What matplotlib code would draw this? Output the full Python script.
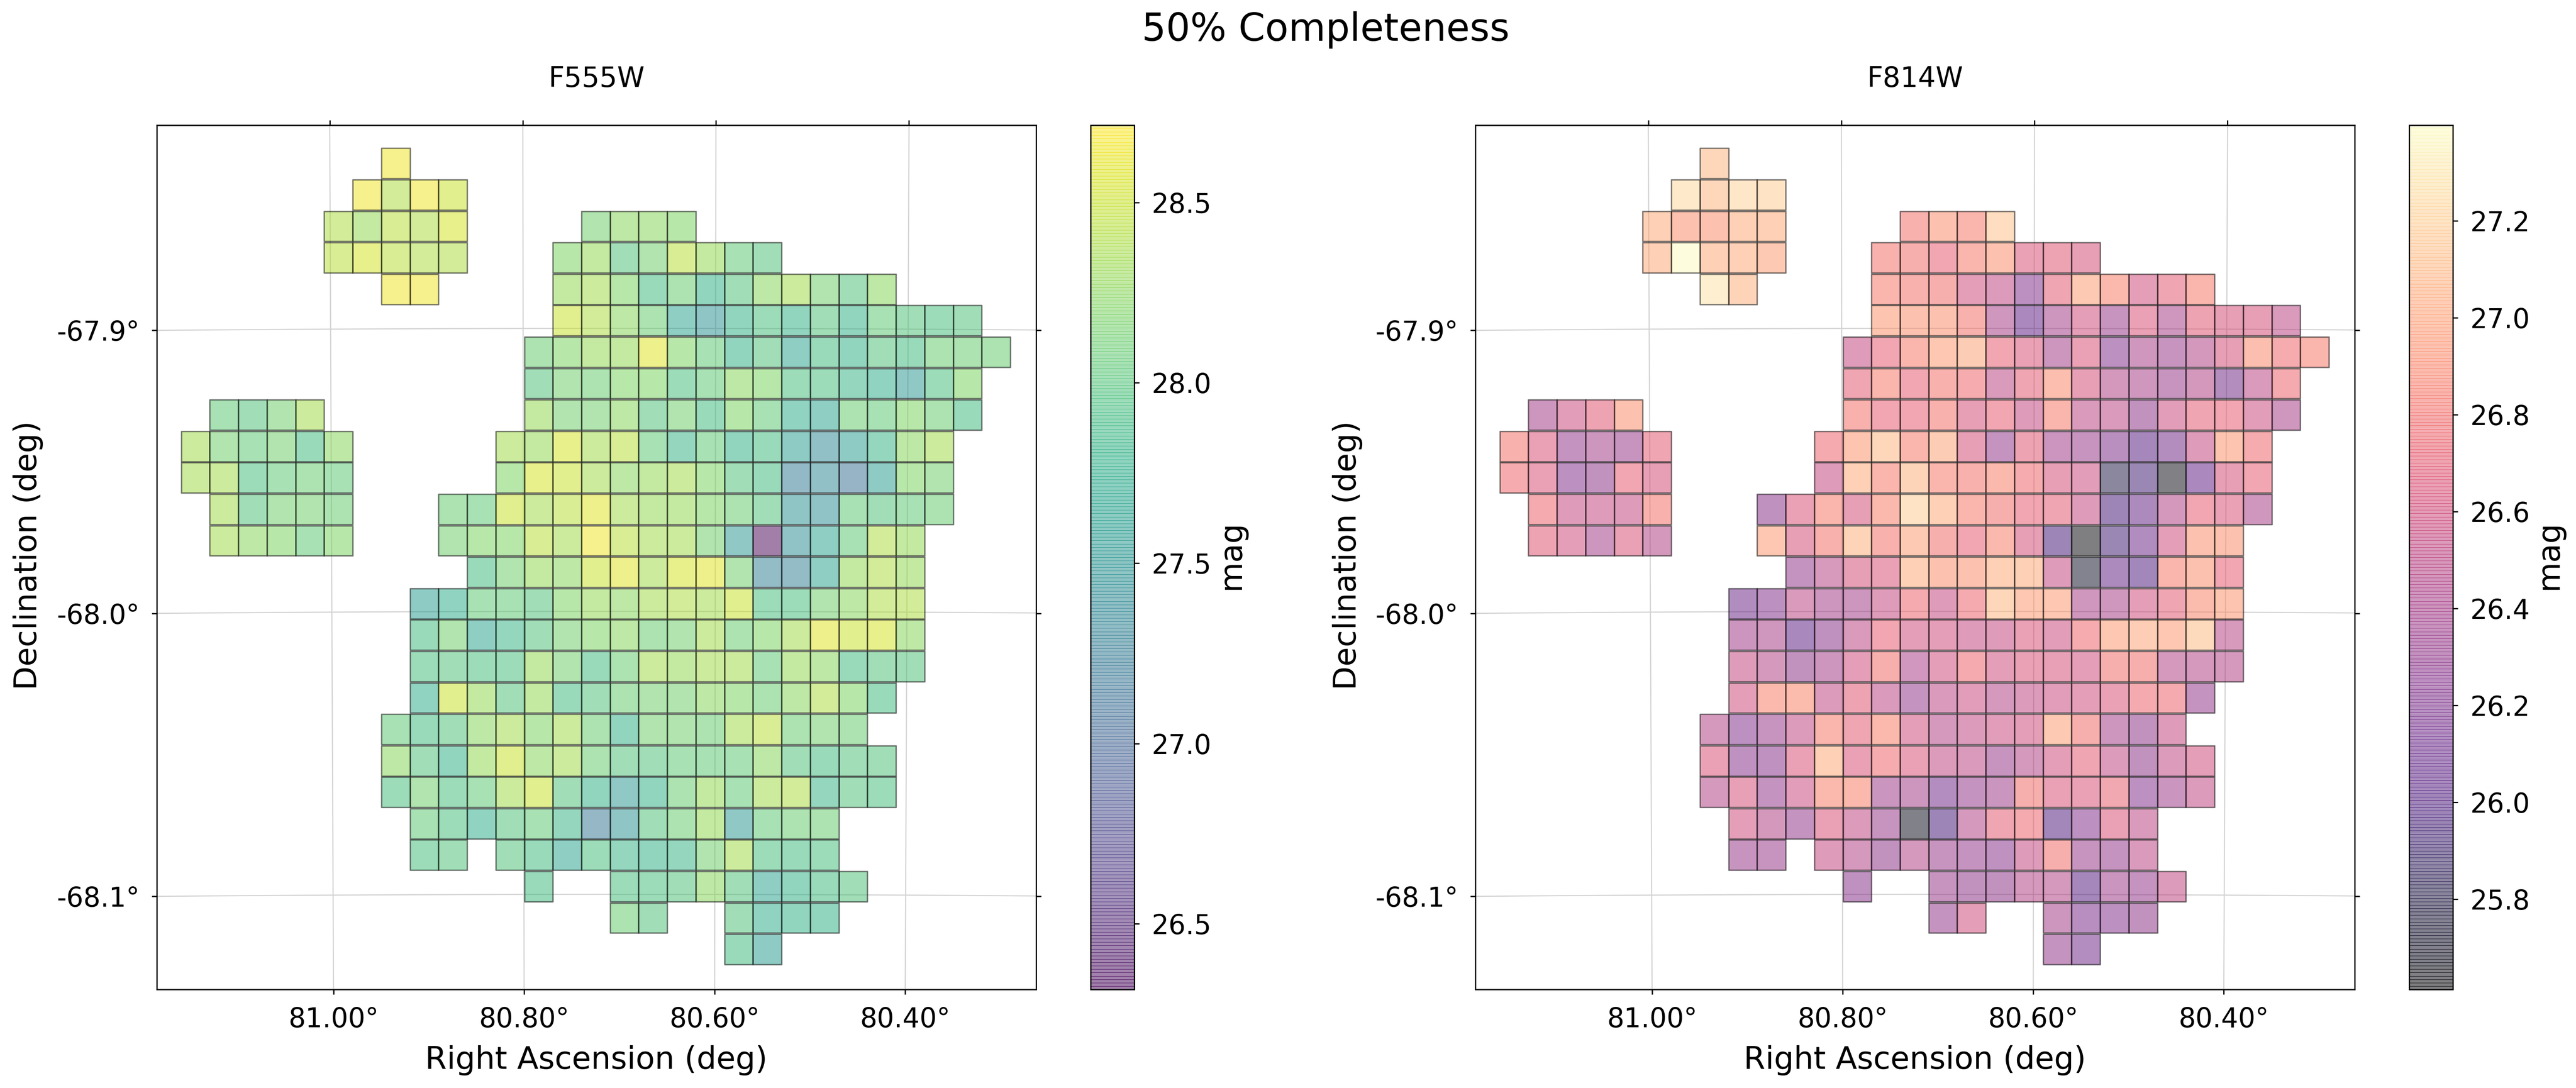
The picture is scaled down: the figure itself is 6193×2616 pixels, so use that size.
import numpy as np
import matplotlib
matplotlib.use('Agg')
import matplotlib.pyplot as plt
from matplotlib.collections import PolyCollection
from matplotlib.colors import Normalize

W, H = 6193, 2616

# each tile row: list of (first column, 50% completeness mags)
f555w_rows = [
    [(7, [28.65])],
    [(6, [28.65, 28.4, 28.65, 28.5])],
    [(5, [28.4, 28.3, 28.45, 28.4, 28.55]), (14, [28.15, 28.25, 28.25, 28.2])],
    [(5, [28.45, 28.55, 28.45, 28.4, 28.4]), (13, [28.2, 28.3, 28.0, 28.15, 28.45, 28.3, 28.05, 28.0])],
    [(7, [28.65, 28.65]), (13, [28.3, 28.35, 28.2, 27.9, 28.1, 27.8, 28.0, 28.25, 28.35, 28.15, 28.0, 28.25])],
    [(13, [28.5, 28.4, 28.25, 28.1, 27.65, 27.5, 27.8, 27.95, 27.8, 28.0, 27.8, 28.05, 28.0, 27.95, 28.0])],
    [(12, [28.1, 28.2, 28.3, 28.3, 28.6, 28.2, 28.05, 27.8, 28.0, 27.65, 27.9, 27.8, 28.0, 27.9, 28.1, 28.1, 28.1])],
    [(12, [28.0, 28.15, 28.1, 28.2, 28.2, 27.95, 28.05, 28.25, 28.2, 27.95, 27.95, 27.85, 27.75, 27.55, 27.95, 28.2])],
    [(1, [28.05, 28.0, 28.15, 28.35]), (12, [28.3, 28.15, 28.15, 28.25, 28.0, 28.15, 27.9, 28.2, 28.05, 27.75, 27.65, 28.1, 28.05, 28.2, 28.1, 27.9])],
    [(0, [28.35, 28.15, 28.05, 28.15, 27.9, 28.25]), (11, [28.35, 28.3, 28.55, 28.35, 28.45, 28.05, 27.85, 28.05, 27.8, 27.9, 27.6, 27.4, 27.6, 27.85, 28.25, 28.35])],
    [(0, [28.35, 28.35, 27.95, 28.05, 28.1, 28.05]), (11, [28.2, 28.55, 28.5, 28.35, 28.25, 28.3, 28.35, 28.2, 28.0, 27.9, 27.25, 27.4, 27.15, 27.6, 28.2, 28.15])],
    [(1, [28.35, 28.0, 28.15, 28.15, 28.1]), (9, [28.1, 28.05, 28.5, 28.35, 28.45, 28.6, 28.35, 28.3, 28.3, 28.2, 28.1, 28.0, 27.5, 27.45, 28.05, 28.0, 28.05, 28.1])],
    [(1, [28.35, 28.25, 28.2, 28.05, 28.2]), (9, [28.15, 28.2, 28.2, 28.45, 28.35, 28.65, 28.45, 28.35, 28.35, 28.15, 27.55, 26.32, 27.45, 27.65, 28.05, 28.4, 28.3])],
    [(10, [27.9, 28.15, 28.3, 28.25, 28.5, 28.6, 28.35, 28.55, 28.6, 28.15, 27.3, 27.3, 27.65, 28.3, 28.4, 28.3])],
    [(8, [27.6, 27.75, 28.05, 28.05, 28.0, 28.2, 28.3, 28.25, 28.35, 28.4, 28.35, 28.5, 27.95, 27.95, 28.15, 28.25, 28.4, 28.4])],
    [(8, [27.9, 28.15, 27.65, 27.85, 28.0, 28.15, 28.2, 28.25, 28.1, 28.15, 28.35, 28.1, 28.2, 28.35, 28.6, 28.5, 28.55, 28.25])],
    [(8, [27.95, 28.0, 27.95, 27.95, 28.3, 28.15, 27.9, 28.1, 28.35, 28.3, 28.35, 28.35, 28.05, 28.3, 28.25, 27.9, 28.0, 28.0])],
    [(8, [27.75, 28.5, 28.3, 28.0, 28.3, 27.9, 28.0, 28.1, 28.15, 28.15, 28.25, 28.2, 28.1, 28.25, 28.4, 28.2, 27.9])],
    [(7, [28.05, 27.9, 28.0, 28.25, 28.35, 28.2, 28.35, 28.1, 27.8, 28.15, 28.15, 28.1, 28.35, 28.45, 28.1, 28.15, 28.1])],
    [(7, [28.25, 28.0, 27.8, 28.3, 28.5, 28.25, 28.35, 28.1, 28.0, 28.0, 28.05, 28.05, 28.05, 28.25, 28.0, 27.9, 28.0, 28.0])],
    [(7, [27.95, 28.15, 27.95, 28.05, 28.35, 28.5, 28.0, 27.8, 27.55, 27.8, 28.1, 28.3, 28.05, 28.35, 28.4, 27.85, 28.0, 27.95])],
    [(8, [28.05, 27.95, 27.75, 28.0, 28.05, 27.85, 27.2, 27.5, 28.0, 28.1, 28.3, 27.55, 28.05, 28.1, 28.1])],
    [(8, [27.95, 28.0]), (11, [28.0, 27.9, 27.65, 27.95, 27.85, 27.8, 27.85, 28.15, 28.35, 27.95, 27.9, 27.95])],
    [(12, [27.9]), (15, [27.95, 27.95, 28.0, 28.25, 28.0, 27.65, 27.8, 27.9, 28.0])],
    [(15, [28.1, 28.0]), (19, [28.0, 27.75, 27.8, 27.8])],
    [(19, [27.9, 27.6])],
]

f814w_rows = [
    [(7, [27.1])],
    [(6, [27.25, 27.1, 27.22, 27.2])],
    [(5, [27.05, 26.95, 26.95, 27.05, 27.05]), (14, [26.82, 26.95, 26.85, 27.15])],
    [(5, [27.05, 27.39, 27.05, 27.05, 27.0]), (13, [26.82, 26.8, 26.72, 26.85, 26.95, 26.65, 26.68, 26.62])],
    [(7, [27.28, 27.08]), (13, [26.85, 26.82, 26.8, 26.6, 26.52, 26.25, 26.7, 27.0, 26.88, 26.6, 26.7, 26.85])],
    [(13, [26.97, 26.95, 26.95, 26.82, 26.42, 26.1, 26.4, 26.6, 26.35, 26.65, 26.42, 26.68, 26.62, 26.62, 26.5])],
    [(12, [26.55, 26.72, 26.85, 26.98, 27.02, 26.72, 26.65, 26.4, 26.65, 26.25, 26.42, 26.35, 26.45, 26.62, 26.92, 26.78, 26.85])],
    [(12, [26.7, 26.85, 26.72, 26.82, 26.78, 26.5, 26.7, 26.92, 26.62, 26.45, 26.42, 26.35, 26.45, 26.18, 26.5, 26.75])],
    [(1, [26.4, 26.58, 26.68, 26.95]), (12, [26.82, 26.72, 26.72, 26.82, 26.62, 26.72, 26.55, 26.85, 26.5, 26.5, 26.3, 26.58, 26.7, 26.72, 26.58, 26.42])],
    [(0, [26.82, 26.65, 26.32, 26.4, 26.35, 26.7]), (11, [26.75, 26.97, 27.1, 26.85, 27.02, 26.62, 26.32, 26.68, 26.38, 26.35, 26.22, 26.05, 26.18, 26.55, 26.97, 26.78])],
    [(0, [26.78, 26.65, 26.25, 26.3, 26.72, 26.62]), (11, [26.55, 27.05, 26.85, 27.08, 26.85, 26.82, 26.88, 26.78, 26.62, 26.58, 25.82, 25.95, 25.66, 26.1, 26.62, 26.72])],
    [(1, [26.75, 26.55, 26.55, 26.55, 26.82]), (9, [26.28, 26.65, 26.85, 26.62, 26.88, 27.2, 27.05, 26.85, 26.8, 26.72, 26.7, 26.55, 25.98, 26.12, 26.45, 26.72, 26.65, 26.42])],
    [(1, [26.68, 26.6, 26.4, 26.65, 26.45]), (9, [26.98, 26.62, 26.82, 27.08, 26.82, 27.0, 26.8, 26.72, 26.88, 26.62, 25.98, 25.62, 25.95, 26.15, 26.6, 26.95, 26.95])],
    [(10, [26.32, 26.48, 26.62, 26.65, 27.05, 26.95, 26.95, 27.05, 27.05, 26.55, 25.72, 26.12, 26.02, 26.85, 26.95, 26.72])],
    [(8, [26.15, 26.25, 26.5, 26.4, 26.4, 26.55, 26.75, 26.55, 26.75, 27.1, 26.98, 26.98, 26.42, 26.42, 26.6, 26.7, 26.9, 26.97])],
    [(8, [26.38, 26.42, 26.08, 26.28, 26.5, 26.72, 26.6, 26.6, 26.55, 26.55, 26.65, 26.58, 26.78, 26.98, 27.03, 26.98, 27.12, 26.48])],
    [(8, [26.55, 26.47, 26.3, 26.4, 26.6, 26.8, 26.43, 26.6, 26.75, 26.6, 26.65, 26.63, 26.6, 26.8, 26.8, 26.47, 26.47, 26.47])],
    [(8, [26.6, 26.88, 26.9, 26.53, 26.68, 26.5, 26.33, 26.5, 26.57, 26.47, 26.53, 26.57, 26.6, 26.65, 26.75, 26.75, 26.33])],
    [(7, [26.47, 26.25, 26.35, 26.53, 26.85, 26.7, 26.88, 26.6, 26.47, 26.53, 26.57, 26.6, 27.0, 26.8, 26.4, 26.3, 26.55])],
    [(7, [26.65, 26.27, 26.27, 26.65, 27.05, 26.65, 26.78, 26.65, 26.53, 26.5, 26.35, 26.47, 26.6, 26.7, 26.53, 26.3, 26.53, 26.6])],
    [(7, [26.47, 26.63, 26.33, 26.57, 26.88, 26.88, 26.37, 26.4, 26.17, 26.33, 26.37, 26.8, 26.65, 26.65, 26.73, 26.25, 26.37, 26.53])],
    [(8, [26.6, 26.45, 26.33, 26.65, 26.53, 26.35, 25.68, 25.98, 26.47, 26.7, 26.75, 26.03, 26.25, 26.65, 26.5])],
    [(8, [26.35, 26.35]), (11, [26.55, 26.47, 26.3, 26.47, 26.35, 26.33, 26.27, 26.55, 26.8, 26.35, 26.33, 26.5])],
    [(12, [26.27]), (15, [26.35, 26.3, 26.3, 26.47, 26.47, 26.05, 26.37, 26.33, 26.53])],
    [(15, [26.33, 26.6]), (19, [26.4, 26.2, 26.25, 26.3])],
    [(19, [26.33, 26.17])],
]

filters = ['F555W', 'F814W']
cmaps = ['viridis', 'magma']
mag_ranges = [(26.318, 28.714), (25.614, 27.397)]
cbar_ticks = [[26.5, 27.0, 27.5, 28.0, 28.5],
              [25.8, 26.0, 26.2, 26.4, 26.6, 26.8, 27.0, 27.2]]
ra_ticks = [81.0, 80.8, 80.6, 80.4]
dec_ticks = [-67.9, -68.0, -68.1]

# tangent plane around the field centre
ra0, dec0 = 80.70, -68.0
xi_left, xi_right = 0.1808, -0.1629
eta_top, eta_bottom = 0.1718, -0.1336

# tile grid in the plane
tile_w = 68.74 / 6150
tile_h = 75.6 / 6805
tile_gap = 2.8 / 6805
xi_start = 1053.4 / 6150
eta_start = 1113.6 / 6805


def tan_plane(ra, dec):
    r = np.radians(np.asarray(ra) - ra0)
    d = np.radians(dec)
    d0 = np.radians(dec0)
    c = np.sin(d0) * np.sin(d) + np.cos(d0) * np.cos(d) * np.cos(r)
    xi = np.cos(d) * np.sin(r) / c
    eta = (np.cos(d0) * np.sin(d) - np.sin(d0) * np.cos(d) * np.cos(r)) / c
    return np.degrees(xi), np.degrees(eta)


def tiles(rows):
    verts, vals = [], []
    for i, row in enumerate(rows):
        top = eta_start - i * tile_h
        for first, mags in row:
            for j, m in enumerate(mags):
                l = xi_start - (first + j) * tile_w
                r = l - tile_w
                b = top - tile_h + tile_gap
                verts.append([(l, top), (r, top), (r, b), (l, b)])
                vals.append(m)
    return verts, np.array(vals)


fig = plt.figure(figsize=(W / 300, H / 300), dpi=300)


def box(x0, x1, y0, y1):
    return [x0 / W, 1 - y1 / H, (x1 - x0) / W, (y1 - y0) / H]


ax_left = [377, 3547]
cb_left = [2622, 5792]
cb_label_x = [2960, 6128]
ylabel_x = [68, 3239]
all_rows = [f555w_rows, f814w_rows]

for k in range(2):
    ax = fig.add_axes(box(ax_left[k], ax_left[k] + 2114, 301, 2379))
    ax.set_xlim(xi_left, xi_right)
    ax.set_ylim(eta_bottom, eta_top)

    # curved grid
    dec_line = np.linspace(-68.16, -67.82, 50)
    ra_line = np.linspace(80.2, 81.2, 50)
    for ra in ra_ticks:
        x, y = tan_plane(np.full(50, ra), dec_line)
        ax.plot(x, y, color='#d3d3d3', lw=0.65, zorder=1)
    for dec in dec_ticks:
        x, y = tan_plane(ra_line, np.full(50, dec))
        ax.plot(x, y, color='#d3d3d3', lw=0.65, zorder=1)

    verts, vals = tiles(all_rows[k])
    norm = Normalize(*mag_ranges[k])
    pc = PolyCollection(verts, array=vals, cmap=cmaps[k], norm=norm, alpha=0.5,
                        edgecolor='k', linewidth=0.8, zorder=2)
    ax.add_collection(pc)

    # ticks sit where the curved lines meet the frame
    bot = [tan_plane(ra, -68.133)[0] for ra in ra_ticks]
    top = [tan_plane(ra, -67.828)[0] for ra in ra_ticks]
    edge_ra = ra0 + xi_left / np.cos(np.radians(dec0))
    ys = [tan_plane(edge_ra, d)[1] for d in dec_ticks]
    ax.set_xticks(bot)
    ax.set_xticklabels(['%.2f°' % r for r in ra_ticks])
    ax.set_yticks(ys)
    ax.set_yticklabels(['%.1f°' % d for d in dec_ticks])
    ax.tick_params(labelsize=15.5, length=2.8, width=0.75, right=True, pad=7)
    sec = ax.secondary_xaxis('top')
    sec.set_xticks(top)
    sec.set_xticklabels([])
    sec.tick_params(length=2.8, width=0.75)
    for s in list(ax.spines.values()) + list(sec.spines.values()):
        s.set_linewidth(0.75)

    ax.set_xlabel('Right Ascension (deg)', fontsize=18, labelpad=7)
    fig.text(ylabel_x[k] / W, 1 - 1335 / H, 'Declination (deg)', fontsize=18,
             rotation=90, ha='center', va='center')
    ax.set_title(filters[k], fontsize=16, pad=22)

    cax = fig.add_axes(box(cb_left[k], cb_left[k] + 105, 301, 2379))
    cb = fig.colorbar(pc, cax=cax)
    cb.solids.set_edgecolor('face')
    cb.solids.set_linewidth(0.15)
    cb.set_ticks(cbar_ticks[k])
    cb.ax.tick_params(labelsize=15.5, length=2.8, width=0.75, pad=7)
    cb.outline.set_linewidth(0.75)
    fig.text(cb_label_x[k] / W, 1 - 1335 / H, 'mag', fontsize=18,
             rotation=90, ha='center', va='center')

fig.text(3187 / W, 1 - 72 / H, '50% Completeness', fontsize=22, ha='center', va='center')

fig.savefig('out.png', dpi=300)
